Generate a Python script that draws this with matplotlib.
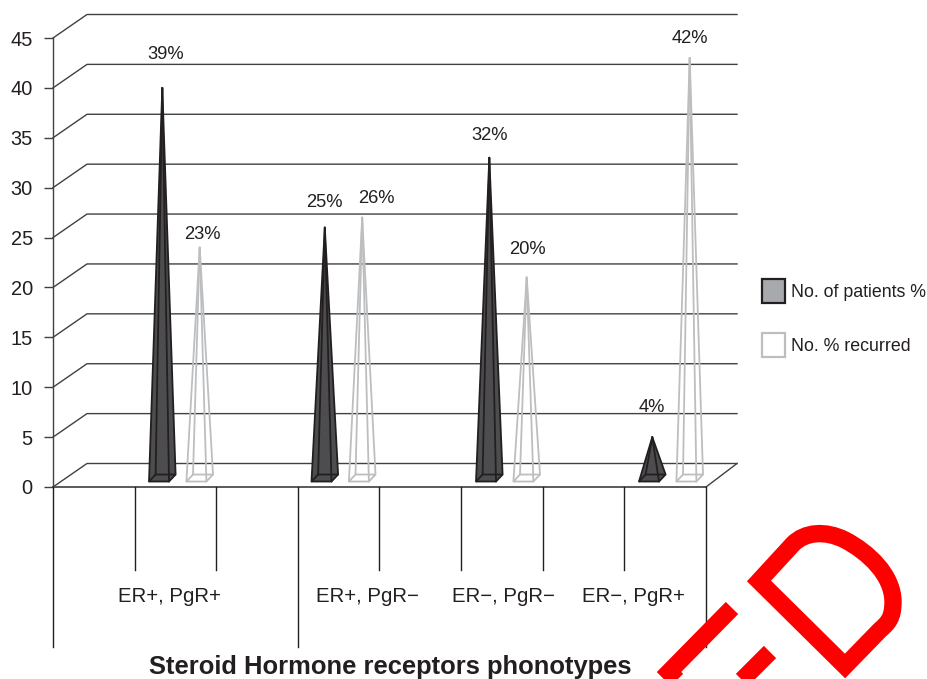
"""Steroid hormone receptor phenotypes: pseudo-3D pyramid chart redrawn with matplotlib."""
import matplotlib
matplotlib.use('Agg')
import matplotlib.pyplot as plt
from matplotlib.patches import Patch, PathPatch, Polygon
from matplotlib.path import Path
from matplotlib.transforms import Affine2D

plt.rcParams['font.family'] = ['Liberation Sans', 'DejaVu Sans']

# data
groups = ['ER+, PgR+', 'ER+, PgR\u2212', 'ER\u2212, PgR\u2212', 'ER\u2212, PgR+']
patients = [39, 25, 32, 4]
recurred = [23, 26, 20, 42]
y_ticks = [0, 5, 10, 15, 20, 25, 30, 35, 40, 45]
series_names = ['No. of patients %', 'No. % recurred']

W, H = 928, 679
DARK_FILL = '#4d4d4f'
DARK_EDGE = '#231f20'
LIGHT_EDGE = '#bcbec0'
AXIS = '#58595b'
GRID = '#414042'
TEXT = '#231f20'

# layout, all in reference pixels
LEFT, RIGHT, TOP, BOTTOM = 53, 737, 14, 487
PX_X = 163.25  # one category
PX_Y = 449 / 45  # one y unit
DEPTH_X = 34 / PX_X
DEPTH_Y = 23.5 / PX_Y


def pyramid(ax, x, value, fill, edge):
    # four sided pyramid, base sits a little back on the floor
    half_w = 10 / PX_X
    shift_x = 3.3 / PX_X
    shift_y = 3.5 / PX_Y
    base_y = 0.9
    peak = (x, value + 1.0)
    corners = [(x - half_w - shift_x, base_y - shift_y), (x + half_w - shift_x, base_y - shift_y),
               (x + half_w + shift_x, base_y + shift_y), (x - half_w + shift_x, base_y + shift_y)]
    if fill != 'none':
        ax.add_patch(Polygon([corners[0], corners[1], corners[2], peak], closed=True,
                             facecolor=fill, edgecolor='none', zorder=3))
    ax.add_patch(Polygon(corners, closed=True, facecolor='none', edgecolor=edge, lw=1.3, zorder=4))
    for c in corners:
        ax.plot([c[0], peak[0]], [c[1], peak[1]], color=edge, lw=1.3, zorder=4, solid_capstyle='round')


fig = plt.figure(figsize=(W / 100, H / 100), dpi=100)
ax = fig.add_axes([LEFT / W, 1 - BOTTOM / H, (RIGHT - LEFT) / W, (BOTTOM - TOP) / H])
ax.set_xlim(0, (RIGHT - LEFT) / PX_X)
ax.set_ylim(0, (BOTTOM - TOP) / PX_Y)
ax.patch.set_alpha(0)
for s in ax.spines.values():
    s.set_visible(False)

# back wall grid and floor
xmax = ax.get_xlim()[1]
for t in y_ticks:
    ax.plot([0, DEPTH_X, xmax], [t, t + DEPTH_Y, t + DEPTH_Y], color=GRID, lw=1.0, zorder=1, clip_on=False)
ax.plot([0, 4], [0, 0], color=AXIS, lw=1.4, zorder=1, clip_on=False)
ax.plot([4, xmax], [0, DEPTH_Y], color=GRID, lw=1.0, zorder=1, clip_on=False)
ax.plot([0, 0], [0, 45], color=GRID, lw=1.0, zorder=1, clip_on=False)

ax.set_xticks([])
ax.set_yticks(y_ticks)
ax.tick_params(axis='y', length=6.5, width=1.0, color=GRID, pad=8, labelsize=14.4, labelcolor=TEXT)

# category axis, two levels of separators every half category
short_y = (BOTTOM - 570) / PX_Y
long_y = (BOTTOM - 647) / PX_Y
for i in range(9):
    low = long_y if i in (0, 3, 8) else short_y
    ax.plot([i / 2, i / 2], [0, low], color=DARK_EDGE, lw=1.0, clip_on=False)

label_x_px = [169, 367, 503, 633]
for name, px in zip(groups, label_x_px):
    ax.text((px - LEFT) / PX_X, (BOTTOM - 597) / PX_Y, name, ha='center', va='center', fontsize=14.7,
            color=TEXT, clip_on=False)

# pyramids, pair centres sit right of the category centre
pair_px = [181, 343.5, 508, 671]
gap_px = 18.7
# label nudges from the peak, in pixels (dark, light per group)
dark_nudge = [(3, 33), (0, 25), (0, 22), (0, 30)]
light_nudge = [(3, 13), (14, 19), (1, 28), (0, 19)]
for i in range(len(groups)):
    x1 = (pair_px[i] - gap_px - LEFT) / PX_X
    x2 = (pair_px[i] + gap_px - LEFT) / PX_X
    pyramid(ax, x1, patients[i], DARK_FILL, DARK_EDGE)
    pyramid(ax, x2, recurred[i], 'none', LIGHT_EDGE)
    for x, v, n in [(x1, patients[i], dark_nudge[i]), (x2, recurred[i], light_nudge[i])]:
        ax.annotate('{}%'.format(v), (x, v + 1.0), xytext=(n[0] * 0.72, n[1] * 0.72), textcoords='offset points',
                    ha='center', va='center', fontsize=13.2, color=TEXT, annotation_clip=False)

handles = [Patch(facecolor='#a7a9ac', edgecolor=DARK_EDGE, lw=1.6),
           Patch(facecolor='white', edgecolor=LIGHT_EDGE, lw=1.6)]
fig.legend(handles, series_names, loc='upper left', bbox_to_anchor=(762 / W, 1 - 279 / H), frameon=False,
           fontsize=12.8, handlelength=1.3, handleheight=1.7, handletextpad=0.35, labelspacing=1.7,
           borderaxespad=0, borderpad=0, labelcolor=TEXT)

fig.text(390 / W, 1 - 667 / H, 'Steroid Hormone receptors phonotypes', ha='center', va='center',
         fontsize=18.4, fontweight='bold', color=TEXT)

# red stamp across the lower right corner
stamp_d = Path([(845, 666), (759, 581), (793, 544), (805, 532), (825, 530), (845, 540), (868, 552), (893, 575),
                (893, 602), (893, 618), (888, 623), (880, 630), (845, 666), (845, 666)],
               [Path.MOVETO, Path.LINETO, Path.LINETO, Path.CURVE4, Path.CURVE4, Path.CURVE4, Path.CURVE4,
                Path.CURVE4, Path.CURVE4, Path.CURVE4, Path.CURVE4, Path.CURVE4, Path.LINETO, Path.CLOSEPOLY])
stamp_e = Path([(732, 608), (669, 672), (720, 723)], [Path.MOVETO, Path.LINETO, Path.LINETO])
stamp_arm = Path([(770, 652), (725, 697)], [Path.MOVETO, Path.LINETO])
to_fig = Affine2D().scale(1 / W, -1 / H).translate(0, 1) + fig.transFigure
for p in [stamp_d, stamp_e, stamp_arm]:
    fig.add_artist(PathPatch(p, facecolor='none', edgecolor='#ff0000', lw=12.5, capstyle='butt', joinstyle='miter',
                             transform=to_fig, zorder=10))

fig.savefig('out.png', dpi=100)
